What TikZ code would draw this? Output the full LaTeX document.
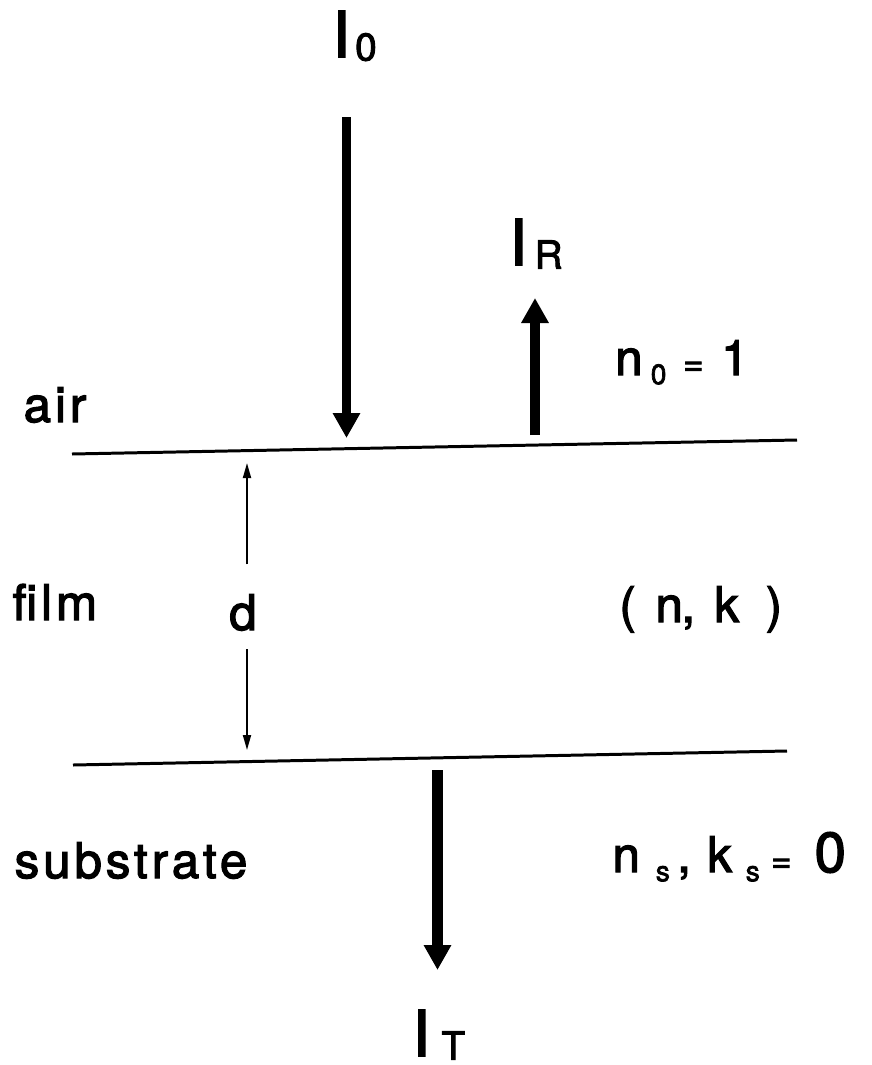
\documentclass[tikz,border=0pt]{standalone}
\usepackage{fontspec}
\setmainfont{TeX Gyre Heros}[FakeBold=2.5]
\newfontfamily\lblfont{TeX Gyre Heros}[LetterSpace=8,FakeBold=2.5]
\usetikzlibrary{arrows.meta}
\newcommand\intens[2]{{\fontsize{18}{20}\selectfont I}\kern#2\raisebox{-1pt}{\fontsize{11}{12}\selectfont #1}}
\newcommand\lowsub[1]{\raisebox{-2.6pt}{\fontsize{8}{9}\selectfont #1}}
\newcommand\eqsign{{\fontsize{10}{11}\selectfont=}}

\begin{document}
\begin{tikzpicture}[>={Triangle[width=2.6mm,length=2.5mm]},
    beam/.style={->, line width=.95mm},
    iface/.style={line width=.85pt},
    dim/.style={-{Triangle[width=.8mm,length=1.5mm]}, line width=.5pt},
    lbl/.style={inner sep=0, anchor=base west, font=\lblfont\fontsize{14}{16}\selectfont},
    ilbl/.style={inner sep=0, anchor=base west}]
\useasboundingbox (0,0) rectangle (8.72,-10.65);

% interfaces
\draw[iface] (0.72,-4.54) -- (7.97,-4.40);
\draw[iface] (0.73,-7.65) -- (7.87,-7.51);

% beams
\coordinate (inc0) at (3.465,-1.17);
\coordinate (inc1) at (3.465,-4.38);
\coordinate (ref0) at (5.35,-4.35);
\coordinate (ref1) at (5.35,-2.98);
\coordinate (tra0) at (4.375,-7.70);
\coordinate (tra1) at (4.375,-9.70);
\draw[beam] (inc0) -- (inc1);
\draw[beam, line width=1.05mm] (ref0) -- (ref1);
\draw[beam, line width=1.1mm] (tra0) -- (tra1);

\node[ilbl] (I0) at (3.32,-0.57) {\intens{0}{1.4pt}};
\node[ilbl] (IR) at (5.09,-2.65) {\intens{R}{2.1pt}};
\node[ilbl] (IT) at (4.12,-10.56) {\intens{T}{3.2pt}};

% media
\node[lbl] (air) at (0.23,-4.22) {air};
\node[lbl] (film) at (0.12,-6.20) {film};
\node[lbl] (subs) at (0.14,-8.78) {substrate};
\node[lbl] (n0) at (6.145,-3.75) {n\kern2.35pt\lowsub{0}\kern4.75pt\eqsign\kern5pt 1};
\node[lbl] (nk) at (6.187,-6.22) {(\kern5.6pt n\kern-.4pt,\kern5.5pt k\kern7.6pt)};
\node[lbl] (ns) at (6.118,-8.72) {n\kern4.55pt\lowsub{s}\kern2.1pt,\kern4.65pt k\kern3.95pt\lowsub{s}\kern3.2pt\eqsign\kern6.55pt{\fontsize{16}{18}\selectfont 0}};

% thickness
\coordinate (dtop) at (2.47,-4.63);
\coordinate (dbot) at (2.47,-7.50);
\node[lbl, anchor=base] (d) at (2.43,-6.30) {d};
\draw[dim, shorten <=2.9mm] (d.north -| dtop) -- (dtop);
\draw[dim, shorten <=1.8mm] (d.south -| dbot) -- (dbot);

\end{tikzpicture}
\end{document}
